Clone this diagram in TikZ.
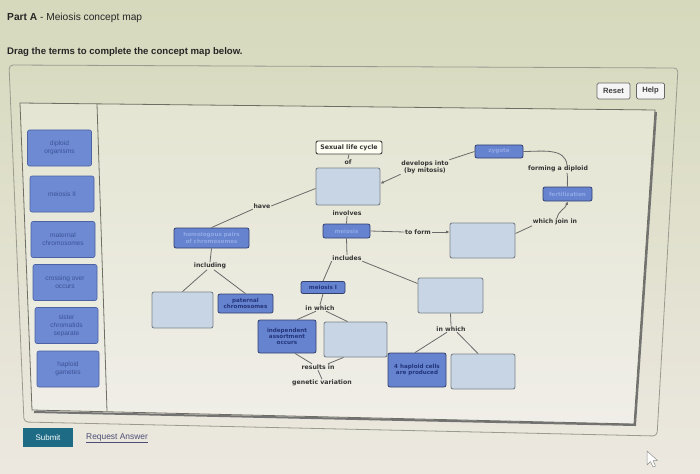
\documentclass[tikz,border=0pt]{standalone}
\usepackage{fontspec}
\setmainfont{Liberation Sans}
\newfontfamily\dv{DejaVu Sans}
\usetikzlibrary{arrows.meta}
\definecolor{bgtop}{HTML}{D6D9BC}
\definecolor{bgbot}{HTML}{ECE8E0}
\definecolor{cvtop}{HTML}{E4E5D2}
\definecolor{cvbot}{HTML}{F0EEE8}
\definecolor{framecol}{HTML}{6E6E64}
\definecolor{panelcol}{HTML}{9A9A8E}
\definecolor{labtext}{HTML}{363636}
\definecolor{conncol}{HTML}{6A6A6A}
\definecolor{emptyfill}{HTML}{C8D5E5}
\definecolor{emptyborder}{HTML}{7C838C}
\definecolor{termfill}{HTML}{6583CF}
\definecolor{termborder}{HTML}{33406E}
\definecolor{termlight}{HTML}{93A9E6}
\definecolor{termdark}{HTML}{24357A}
\definecolor{palfill}{HTML}{6E8AD2}
\definecolor{palborder}{HTML}{4B62A3}
\definecolor{paltext}{HTML}{3C5398}
\definecolor{submitcol}{HTML}{1E6B85}
\tikzset{
  lbl/.style={font=\dv\bfseries\fontsize{6.2}{7}\selectfont, text=labtext, inner sep=0.6pt, align=center},
  emptybox/.style={draw=emptyborder, fill=emptyfill, line width=0.9pt, rounded corners=2pt, inner sep=0pt},
  termA/.style={draw=termborder, fill=termfill, line width=0.8pt, rounded corners=2pt, inner sep=0pt,
    font=\dv\bfseries\fontsize{5.6}{6.4}\selectfont, text=termlight, align=center},
  termB/.style={termA, text=termdark},
  conn/.style={draw=conncol, line width=0.8pt},
  arr/.style={conn, -{Latex[length=3.4pt,width=3.2pt]}},
  palbox/.style={draw=palborder, fill=palfill, line width=0.6pt, rounded corners=2pt, inner sep=0pt,
    font=\fontsize{6.6}{7.8}\selectfont, text=paltext, align=center, minimum width=64, minimum height=36},
  btn/.style={draw=gray!80!black, fill=white!92!gray, line width=0.7pt, rounded corners=1.5pt,
    font=\bfseries\fontsize{7.6}{8}\selectfont, text=black!75, inner sep=0pt},
}
\begin{document}
\begin{tikzpicture}[x=1pt,y=-1pt]
\useasboundingbox (0,0) rectangle (700,473);
\shade[top color=bgtop, bottom color=bgbot] (0,0) rectangle (700,473);

% header
\node[anchor=west, inner sep=0, text=black!85] (title) at (7,18)
  {\fontsize{10.2}{11}\selectfont\textbf{Part A} - Meiosis concept map};
\node[anchor=west, inner sep=0, text=black!85] (instr) at (7,52)
  {\fontsize{9.6}{11}\selectfont\textbf{Drag the terms to complete the concept map below.}};

% outer panel
\draw[panelcol, line width=0.8pt, rounded corners=4pt] (9,65) -- (678,68) -- (657,436) -- (24,422) -- cycle;
% Reset / Help
\node[btn, minimum width=33, minimum height=16] (reset) at (613.5,91) {Reset};
\node[btn, minimum width=28, minimum height=16] (help) at (650.5,91) {Help};

% inner frame
\shade[top color=cvtop, bottom color=cvbot] (20,103) -- (655,110) -- (634,424) -- (32,410) -- cycle;
\draw[black!55, line width=2pt] (656,112) -- (635,425) -- (34,412);
\draw[framecol, line width=0.8pt] (20,103) -- (655,110) -- (634,424) -- (32,410) -- cycle;
\draw[framecol, line width=0.8pt] (97,104) -- (107,411);

% palette
\node[palbox] (p1) at (59.5,148) {diploid\\organisms};
\node[palbox] (p2) at (62,194) {meiosis II};
\node[palbox] (p3) at (63,239.5) {maternal\\chromosomes};
\node[palbox] (p4) at (65,282.5) {crossing over\\occurs};
\node[palbox, minimum width=63] (p5) at (66.5,325.5) {sister\\chromatids\\separate};
\node[palbox, minimum width=62] (p6) at (68,369) {haploid\\gametes};

% concept map nodes
\node[draw=black!75, fill=white!95!yellow, line width=0.9pt, rounded corners=2pt, inner sep=0pt,
  minimum width=66, minimum height=13, font=\dv\bfseries\fontsize{6.3}{7}\selectfont, text=black!80] (sexual) at (349,147.5) {Sexual life cycle};
\node[lbl] (of) at (348,162) {of};
\node[emptybox, minimum width=64, minimum height=37] (b1) at (348,186.5) {};
\node[lbl] (involves) at (347,213) {involves};
\node[termA, minimum width=47, minimum height=14] (meiosis) at (346.5,231) {meiosis};
\node[lbl] (includes) at (347,258) {includes};
\node[lbl] (toform) at (418,232) {to form};
\node[emptybox, minimum width=65, minimum height=35] (b2) at (482.5,240.5) {};
\node[lbl] (whichjoin) at (555,222) {which join in};
\node[termA, minimum width=49, minimum height=14] (fert) at (567.5,194) {fertilization};
\node[lbl] (forming) at (558,169) {forming a diploid};
\node[termA, minimum width=48, minimum height=13] (zygote) at (499,151.5) {zygote};
\node[lbl] (develops) at (425,167) {develops into\\(by mitosis)};
\node[lbl] (have) at (262,206) {have};
\node[termA, minimum width=75, minimum height=20] (homol) at (211.5,238) {homologous pairs\\of chromosomes};
\node[lbl] (including) at (210,266) {including};
\node[emptybox, minimum width=61, minimum height=36] (b3) at (182.5,310) {};
\node[termB, minimum width=55, minimum height=19] (paternal) at (245.5,303.5) {paternal\\chromosomes};
\node[termB, minimum width=44, minimum height=12] (meiosisI) at (323,287.5) {meiosis I};
\node[lbl] (inwhichA) at (320,308) {in which};
\node[termB, minimum width=58, minimum height=33] (indep) at (287,336.5) {independent\\assortment\\occurs};
\node[emptybox, minimum width=63, minimum height=35] (b5) at (355.5,339.5) {};
\node[lbl] (results) at (318,367) {results in};
\node[lbl] (genetic) at (322,383) {genetic variation};
\node[emptybox, minimum width=65, minimum height=35] (b4) at (450.5,295.5) {};
\node[lbl] (inwhichB) at (451,329) {in which};
\node[termB, minimum width=58, minimum height=34] (haploid4) at (417,370) {4 haploid cells\\are produced};
\node[emptybox, minimum width=64, minimum height=35] (b6) at (483,371.5) {};

% connectors
\draw[conn] (sexual.south) -- (of.north);
\draw[conn] (involves.south) -- (meiosis.north);
\draw[conn] (meiosis.south) -- (includes.north);
\draw[conn] (includes.south west) -- (meiosisI.north);
\draw[conn] (includes.south east) -- ([yshift=12]b4.west);
\draw[conn] (meiosis.east) -- (toform.west);
\draw[arr] (toform.east) -- (b2.west |- toform.east);
\draw[conn] ([yshift=7]b2.east) -- (whichjoin.south west);
\draw[arr] ([xshift=2]whichjoin.north) to[out=80,in=-105] (fert.south);
\draw[conn] ([xshift=9]forming.south) to[out=-80,in=95] (fert.north);
\draw[conn] (zygote.east) to[out=0,in=95] ([xshift=9]forming.north);
\draw[conn] (zygote.west) -- (develops.north east);
\draw[arr] (develops.south west) -- ([yshift=3]b1.east);
\draw[conn] ([yshift=-2]b1.west) -- (have.east);
\draw[conn] (have.south west) -- (homol.north);
\draw[conn] (homol.south) -- (including.north);
\draw[conn] ([xshift=-3]including.south) -- (b3.north);
\draw[conn] ([xshift=4]including.south) -- (paternal.north);
\draw[conn] (meiosisI.south) -- (inwhichA.north);
\draw[conn] ([xshift=-4]inwhichA.south) -- ([xshift=10]indep.north);
\draw[conn] ([xshift=6]inwhichA.south) -- ([xshift=-8]b5.north);
\draw[conn] ([xshift=8]indep.south) -- ([xshift=-6]results.north);
\draw[conn] ([xshift=-12]b5.south) -- ([xshift=10]results.north);
\draw[conn] (results.south) -- (genetic.north);
\draw[conn] (b4.south) -- (inwhichB.north);
\draw[conn] ([xshift=-4]inwhichB.south) -- ([xshift=-2]haploid4.north);
\draw[conn] ([xshift=6]inwhichB.south) -- ([xshift=-5]b6.north);

% bottom controls
\node[fill=submitcol, minimum width=50, minimum height=19, inner sep=0pt, text=white,
  font=\fontsize{8}{9}\selectfont] (submit) at (48,437.5) {Submit};
\node[anchor=west, inner sep=0pt, text=black!60!blue!40!gray, font=\fontsize{8.4}{9}\selectfont] (request) at (86,438.5) {\underline{Request Answer}};

% cursor
\draw[black!45, fill=white, line width=0.5pt, line join=round] (647,451) -- (647,465) -- (650.5,461.5) -- (653,467) -- (655.5,466) -- (653,460.5) -- (657.5,460.5) -- cycle;
\end{tikzpicture}
\end{document}
